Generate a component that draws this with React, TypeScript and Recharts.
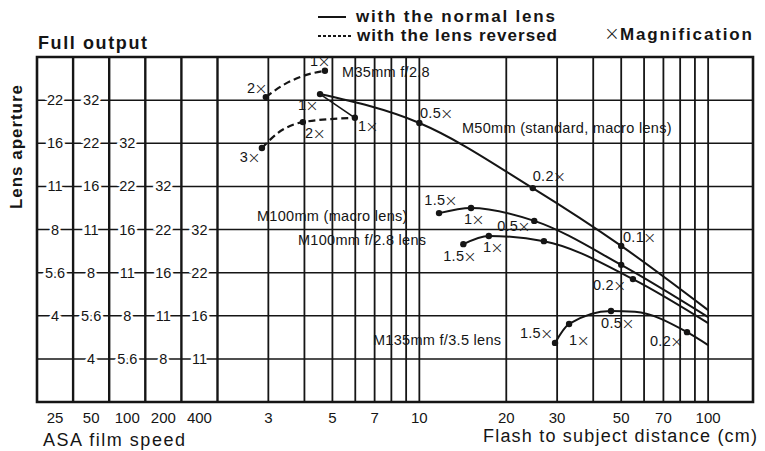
import React from "react";
import { ComposedChart, Line, Scatter, XAxis, YAxis, CartesianGrid, ReferenceArea, ReferenceLine } from "recharts";

const W = 765;
const H = 451;
const INK = "#151515";
const FONT = "'Liberation Sans', Arial, Helvetica, sans-serif";

// distance axis (cm) and aperture rows (stops, f-number row index)
const distanceTicks = [3, 5, 7, 10, 20, 30, 50, 70, 100];
const distanceGrid = [3, 4, 5, 6, 7, 8, 9, 10, 20, 30, 40, 50, 60, 70, 80, 90, 100];
const apertureRows = [3, 4, 5, 6, 7, 8, 9];
const fNumbers = ["2.8", "4", "5.6", "8", "11", "16", "22", "32"];
const asaSpeeds = ["25", "50", "100", "200", "400"];

// curves: d = flash to subject distance (cm), v = aperture stop, dot = marked magnification
const m35Upper = [
  { d: 2.94, v: 9.07, dot: true },
  { d: 3.42, v: 9.37 },
  { d: 3.95, v: 9.56 },
  { d: 4.71, v: 9.68, dot: true },
];
const m35Lower = [
  { d: 2.85, v: 7.89, dot: true },
  { d: 3.24, v: 8.24 },
  { d: 3.95, v: 8.49, dot: true },
  { d: 5.98, v: 8.59, dot: true },
];
const m35Link = [
  { d: 4.53, v: 9.14 },
  { d: 5.98, v: 8.59 },
];
const m50 = [
  { d: 4.53, v: 9.14, dot: true },
  { d: 10, v: 8.47, dot: true },
  { d: 24.7, v: 6.96, dot: true },
  { d: 50, v: 5.62, dot: true },
  { d: 100, v: 4.13 },
];
const m100Macro = [
  { d: 11.7, v: 6.38, dot: true },
  { d: 15.1, v: 6.5, dot: true },
  { d: 25, v: 6.2, dot: true },
  { d: 50, v: 5.18, dot: true },
  { d: 100, v: 3.97 },
];
const m100 = [
  { d: 14.2, v: 5.66, dot: true },
  { d: 17.4, v: 5.85, dot: true },
  { d: 27, v: 5.73, dot: true },
  { d: 54.9, v: 4.85, dot: true },
  { d: 100, v: 3.83 },
];
const m135 = [
  { d: 29.5, v: 3.37, dot: true },
  { d: 33, v: 3.81, dot: true },
  { d: 46.1, v: 4.11, dot: true },
  { d: 55.8, v: 4.09 },
  { d: 84.5, v: 3.62, dot: true },
  { d: 100, v: 3.32 },
];

// text notes, anchored at their left edge
const notes = [
  { d: 5.4, v: 9.65, text: "M35mm f/2.8" },
  { d: 14.05, v: 8.35, text: "M50mm (standard, macro lens)" },
  { d: 2.74, v: 6.31, text: "M100mm (macro lens)" },
  { d: 3.8, v: 5.76, text: "M100mm f/2.8 lens" },
  { d: 6.91, v: 3.44, text: "M135mm f/3.5 lens" },
  { d: 4.18, v: 9.91, text: "1×" },
  { d: 2.53, v: 9.28, text: "2×" },
  { d: 3.8, v: 8.89, text: "1×" },
  { d: 10.05, v: 8.7, text: "0.5×" },
  { d: 4.02, v: 8.24, text: "2×" },
  { d: 6.13, v: 8.4, text: "1×" },
  { d: 2.39, v: 7.68, text: "3×" },
  { d: 24.7, v: 7.24, text: "0.2×" },
  { d: 50.7, v: 5.83, text: "0.1×" },
  { d: 10.4, v: 6.68, text: "1.5×" },
  { d: 14.27, v: 6.24, text: "1×" },
  { d: 18.6, v: 6.08, text: "0.5×" },
  { d: 12.1, v: 5.39, text: "1.5×" },
  { d: 16.6, v: 5.6, text: "1×" },
  { d: 39.9, v: 4.71, text: "0.2×" },
  { d: 22.3, v: 3.6, text: "1.5×" },
  { d: 33, v: 3.44, text: "1×" },
  { d: 42.6, v: 3.83, text: "0.5×" },
  { d: 62.9, v: 3.41, text: "0.2×" },
];

// ASA table: each film-speed column is 1/8 decade wide on the distance axis, ending at 2 cm
const COL_STEP = 10 ** 0.125;
const colEdges = [5, 4, 3, 2, 1, 0].map((k) => 2 / COL_STEP ** k);
const colCenters = asaSpeeds.map((_, k) => colEdges[k] * Math.sqrt(COL_STEP));
const X_DOMAIN = [colEdges[0], 143];

const tableCells = asaSpeeds.flatMap((_, k) =>
  apertureRows
    .map((v) => ({ d: colCenters[k], v, text: fNumbers[v - 3 + k] }))
    .filter((c) => c.text && c.text !== "2.8")
);

const bottomTicks = [...colCenters, ...distanceTicks];
const bottomLabel = (value: number) => {
  const k = colCenters.indexOf(value);
  return k >= 0 ? asaSpeeds[k] : String(value);
};

const renderDot = (p: any) =>
  p.payload && p.payload.dot ? (
    <circle key={`dot-${p.index}`} cx={p.cx} cy={p.cy} r={3.2} fill={INK} />
  ) : (
    <g key={`dot-${p.index}`} />
  );

const TableLabel = (p: any) => (
  <text
    x={p.cx}
    y={p.cy}
    textAnchor="middle"
    dominantBaseline="central"
    fontSize={14.5}
    fontFamily={FONT}
    fill={INK}
    stroke="#fff"
    strokeWidth={5}
    style={{ paintOrder: "stroke" }}
  >
    {p.payload.text}
  </text>
);

const NoteLabel = (p: any) => {
  const text: string = p.payload.text;
  const hasCross = text.endsWith("×");
  return (
    <text x={p.cx} y={p.cy} dominantBaseline="central" fontSize={14.5} fontFamily={FONT} fill={INK} letterSpacing={0.3}>
      {hasCross ? text.slice(0, -1) : text}
      {hasCross && (
        <tspan fontSize={16} dx={-1} fontFamily="'DejaVu Sans', sans-serif" fontWeight={200}>
          ×
        </tspan>
      )}
    </text>
  );
};

export default function App() {
  const line = { dataKey: "v", stroke: INK, strokeWidth: 2, isAnimationActive: false, dot: renderDot, activeDot: false as const };
  return (
    <div style={{ position: "absolute", left: 0, top: 0, width: W, height: H, background: "#fff" }}>
      <ComposedChart width={W} height={H} margin={{ top: 57, right: 12, bottom: 19, left: 37 }}>
        <CartesianGrid vertical={false} horizontalValues={apertureRows} stroke={INK} strokeWidth={1.5} />
        <CartesianGrid horizontal={false} verticalValues={distanceGrid} stroke={INK} strokeWidth={1.8} />
        <XAxis
          dataKey="d"
          type="number"
          scale="log"
          domain={X_DOMAIN}
          allowDataOverflow
          ticks={bottomTicks}
          interval={0}
          tickFormatter={bottomLabel}
          axisLine={false}
          tickLine={false}
          tickSize={0}
          tickMargin={10}
          height={30}
          tick={{ fill: INK, fontSize: 15, fontFamily: FONT }}
        />
        <YAxis dataKey="v" type="number" domain={[2, 10]} hide />
        {colEdges.slice(1).map((e) => (
          <ReferenceLine key={e} x={e} stroke={INK} strokeWidth={2.4} ifOverflow="visible" />
        ))}
        <ReferenceArea
          x1={X_DOMAIN[0]}
          x2={X_DOMAIN[1]}
          y1={2}
          y2={10}
          fill="none"
          stroke={INK}
          strokeWidth={2.6}
          ifOverflow="visible"
        />
        <Scatter data={tableCells} dataKey="v" shape={TableLabel} isAnimationActive={false} />
        <Line {...line} data={m35Upper} type="monotone" strokeDasharray="7 4" strokeWidth={2.2} />
        <Line {...line} data={m35Lower} type="monotone" strokeDasharray="7 4" strokeWidth={2.2} />
        <Line {...line} data={m35Link} type="linear" strokeWidth={1.6} />
        <Line {...line} data={m50} type="monotone" />
        <Line {...line} data={m100Macro} type="monotone" />
        <Line {...line} data={m100} type="monotone" />
        <Line {...line} data={m135} type="monotone" />
        <Scatter data={notes} dataKey="v" shape={NoteLabel} isAnimationActive={false} />
      </ComposedChart>
      <svg
        width={W}
        height={H}
        style={{ position: "absolute", left: 0, top: 0, pointerEvents: "none" }}
        fontFamily={FONT}
        fill={INK}
      >
        <text x={38} y={49} fontSize={18} fontWeight="bold" textLength={109} lengthAdjust="spacing">
          Full output
        </text>
        <line x1={318} x2={346} y1={17} y2={17} stroke={INK} strokeWidth={2} />
        <text x={356} y={22} fontSize={17} fontWeight="bold" textLength={199} lengthAdjust="spacing">
          with the normal lens
        </text>
        <line x1={318} x2={351} y1={36} y2={36} stroke={INK} strokeWidth={2} strokeDasharray="3 2" />
        <text x={357} y={41} fontSize={17} fontWeight="bold" textLength={200} lengthAdjust="spacing">
          with the lens reversed
        </text>
        <text x={604} y={40} fontSize={19} fontFamily="'DejaVu Sans', sans-serif" fontWeight={200}>
          ×
        </text>
        <text x={620} y={40} fontSize={17} fontWeight="bold" textLength={132} lengthAdjust="spacing">
          Magnification
        </text>
        <text
          transform="rotate(-90)"
          x={-147}
          y={22}
          textAnchor="middle"
          fontSize={17}
          fontWeight="bold"
          textLength={124}
          lengthAdjust="spacing"
        >
          Lens aperture
        </text>
        <text x={43} y={446} fontSize={18} textLength={142} lengthAdjust="spacing">
          ASA film speed
        </text>
        <text x={483} y={442} fontSize={18} textLength={274} lengthAdjust="spacing">
          Flash to subject distance (cm)
        </text>
      </svg>
    </div>
  );
}
